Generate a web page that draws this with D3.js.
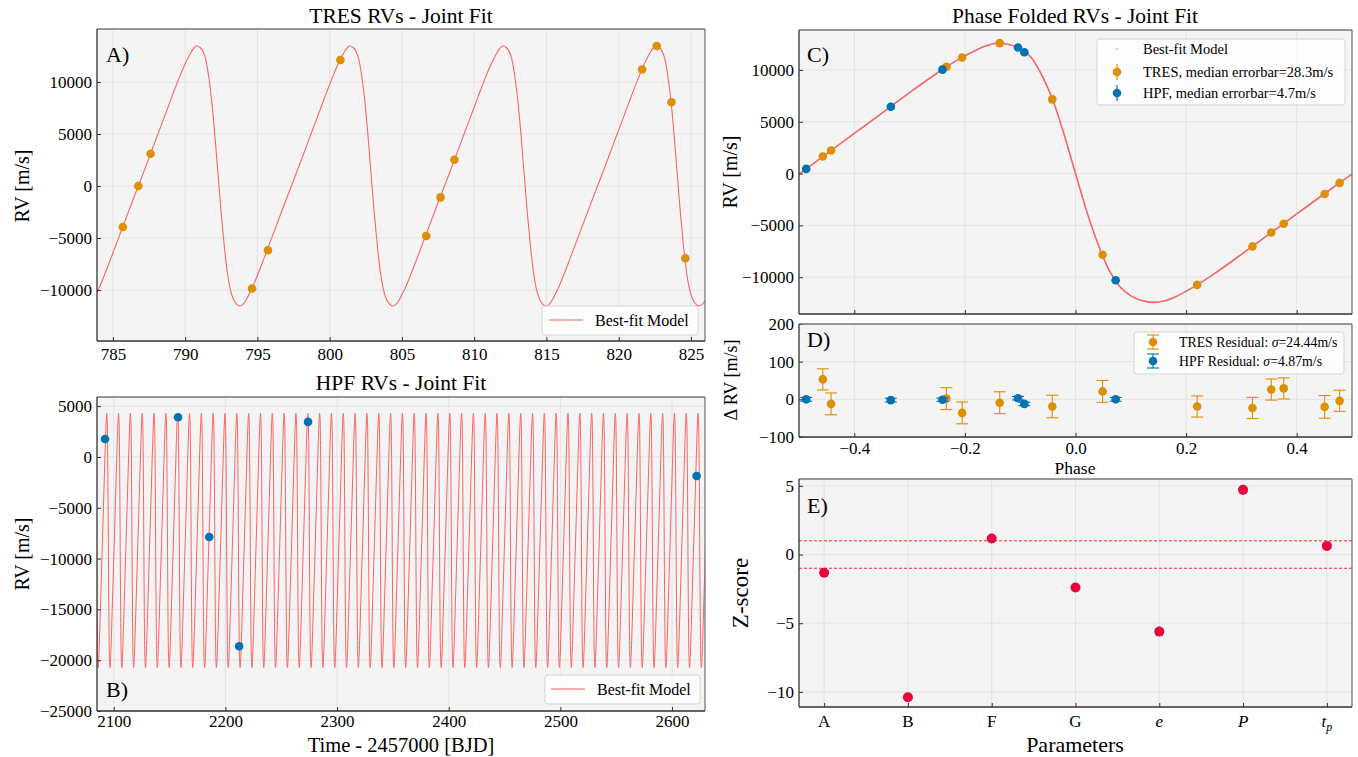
<!DOCTYPE html>
<html>
<head>
<meta charset="utf-8">
<script src="https://cdn.jsdelivr.net/npm/d3@7"></script>
<style>
  body { margin: 0; background: #ffffff; }
  svg text { font-family: 'Liberation Serif', 'Times New Roman', Times, serif; fill: #000; }
</style>
</head>
<body>
<script>
// ---------------- data ----------------
// Best-fit Keplerian model, sampled on orbital phase (systemic velocity removed)
const modelPhase = [-0.50, -0.45, -0.40, -0.35, -0.30, -0.25, -0.22, -0.20, -0.18, -0.16, -0.14, -0.12,
                    -0.10, -0.08, -0.06, -0.04, -0.02, 0.00, 0.02, 0.04, 0.06, 0.08, 0.10, 0.12,
                    0.14, 0.16, 0.18, 0.20, 0.22, 0.25, 0.30, 0.35, 0.40, 0.45, 0.50];
const modelRV = [-50, 1900, 3870, 5830, 7800, 9700, 10750, 11350, 11900, 12350, 12600, 12450,
                 12080, 11200, 9400, 6950, 3650, 0, -3600, -6700, -9250, -10900, -11800, -12250,
                 -12430, -12300, -11900, -11350, -10740, -9700, -7800, -5850, -3900, -1950, -50];

// Orbit ephemeris and per-instrument systemic offsets
const period = 10.5924;      // days
const epoch = 781.695;       // BJD - 2457000, phase zero
const gammaTRES = 890;       // m/s
const gammaHPF = -8300;      // m/s

// TRES time series
const tresTime = [785.69, 786.76, 787.61, 794.63, 795.73, 800.74, 806.68, 807.67, 808.63, 821.62, 822.63, 823.65, 824.61];
const tresRV   = [-3935, 0, 3100, -9850, -6170, 12120, -4800, -1090, 2530, 11200, 13470, 8060, -6940];

// HPF time series
const hpfTime = [2092.2, 2157.6, 2185.5, 2212.3, 2274.0, 2622.0];
const hpfRV   = [1770, 3900, -7870, -18630, 3450, -1870];

// Phase-folded TRES RVs, residuals and error bars
const tresPhase = [-0.457, -0.442, -0.2335, -0.205, -0.137, -0.042, 0.049, 0.220, 0.320, 0.354, 0.3765, 0.4505, 0.4776];
const tresFold  = [1645, 2226, 10290, 11194, 12580, 7160, -7840, -10740, -7030, -5680, -4840, -1970, -900];
const tresResid = [53, -12, 2, -36, -9, -19, 21, -19, -23, 26, 29, -20, -4];
const tresErr   = [28, 29, 29, 29, 29, 30, 29, 28, 28, 28, 28, 30, 28];

// Phase-folded HPF RVs, residuals and error bars
const hpfPhase = [-0.487, -0.334, -0.2406, -0.104, -0.0925, 0.0726];
const hpfFold  = [450, 6450, 10030, 12160, 11710, -10290];
const hpfResid = [0, -2, -1, 3, -12, 0];
const hpfErr   = [5, 5, 4.5, 4.7, 4.7, 5];

// Parameter Z-scores
const paramNames = ['A', 'B', 'F', 'G', 'e', 'P', 'tp'];
const zScores = [-1.33, -10.39, 1.17, -2.40, -5.61, 4.71, 0.63];

// Tick values
const ticksA_x = [785, 790, 795, 800, 805, 810, 815, 820, 825];
const ticksA_y = [-10000, -5000, 0, 5000, 10000];
const ticksB_x = [2100, 2200, 2300, 2400, 2500, 2600];
const ticksB_y = [-25000, -20000, -15000, -10000, -5000, 0, 5000];
const ticksPhase = [-0.4, -0.2, 0.0, 0.2, 0.4];
const ticksC_y = [-10000, -5000, 0, 5000, 10000];
const ticksD_y = [-100, 0, 100, 200];
const ticksE_y = [-10, -5, 0, 5];

// ---------------- setup ----------------
const W = 1358, H = 757;
const FONT = "'Liberation Serif', 'Times New Roman', Times, serif";
const COL_TRES = '#DE8F05', COL_HPF = '#0173B2', COL_MODEL = '#FA6464', COL_Z = '#E8053D';
const BG = '#f4f4f4', GRID = '#e1e1e1';
const TICK_FS = 17;

const svg = d3.select('body').append('svg')
  .attr('width', W).attr('height', H);
svg.append('rect').attr('width', W).attr('height', H).attr('fill', '#fff');
const defs = svg.append('defs');

let clipCount = 0;
// Background, grid and clipped plotting layer of one panel
function frame(x, y, xTicks, yTicks) {
  const [xa, xb] = x.range();
  const [yb, ya] = y.range();
  const g = svg.append('g');
  g.append('rect').attr('x', xa).attr('y', ya).attr('width', xb - xa).attr('height', yb - ya).attr('fill', BG);
  g.append('g').selectAll('line').data(xTicks).join('line')
    .attr('x1', d => x(d)).attr('x2', d => x(d)).attr('y1', ya).attr('y2', yb)
    .attr('stroke', GRID).attr('stroke-width', 0.9);
  g.append('g').selectAll('line').data(yTicks).join('line')
    .attr('y1', d => y(d)).attr('y2', d => y(d)).attr('x1', xa).attr('x2', xb)
    .attr('stroke', GRID).attr('stroke-width', 0.9);
  const id = 'clip' + (clipCount++);
  defs.append('clipPath').attr('id', id).append('rect')
    .attr('x', xa).attr('y', ya).attr('width', xb - xa).attr('height', yb - ya);
  const plot = svg.append('g').attr('clip-path', `url(#${id})`);
  return { plot, xa, xb, ya, yb };
}

// Inward ticks, tick labels and spines
function decorate(f, x, y, o) {
  const xAxis = d3.axisBottom(x).tickValues(o.xTicks).tickSizeInner(-4).tickSizeOuter(0)
    .tickPadding(o.xPad || 7).tickFormat(o.xFormat);
  const ax = svg.append('g').attr('transform', `translate(0,${f.yb})`).call(xAxis);
  ax.select('.domain').remove();
  ax.selectAll('line').attr('stroke', '#333');
  ax.selectAll('text').attr('font-family', FONT).attr('font-size', TICK_FS).attr('fill', '#000');

  const yAxis = d3.axisLeft(y).tickValues(o.yTicks).tickSizeInner(-4).tickSizeOuter(0)
    .tickPadding(5).tickFormat(o.yFormat);
  const ay = svg.append('g').attr('transform', `translate(${f.xa},0)`).call(yAxis);
  ay.select('.domain').remove();
  ay.selectAll('line').attr('stroke', '#333');
  ay.selectAll('text').attr('font-family', FONT).attr('font-size', TICK_FS).attr('fill', '#000');

  const s = svg.append('g').attr('fill', 'none').attr('stroke-width', 1.3);
  s.append('line').attr('x1', f.xa).attr('x2', f.xb).attr('y1', f.ya).attr('y2', f.ya).attr('stroke', '#777');
  s.append('line').attr('x1', f.xb).attr('x2', f.xb).attr('y1', f.ya).attr('y2', f.yb).attr('stroke', '#777');
  s.append('line').attr('x1', f.xa).attr('x2', f.xb).attr('y1', f.yb).attr('y2', f.yb).attr('stroke', '#333');
  s.append('line').attr('x1', f.xa).attr('x2', f.xa).attr('y1', f.ya).attr('y2', f.yb).attr('stroke', '#333');
}

function text(x, y, str, size, anchor) {
  return svg.append('text').attr('x', x).attr('y', y).attr('font-size', size)
    .attr('text-anchor', anchor || 'start').text(str);
}
function ylabel(x, yc, str, size) {
  return svg.append('text').attr('transform', `translate(${x},${yc}) rotate(-90)`)
    .attr('font-size', size).attr('text-anchor', 'middle').text(str);
}
function legendBox(x, y, w, h) {
  svg.append('rect').attr('x', x).attr('y', y).attr('width', w).attr('height', h)
    .attr('rx', 3).attr('fill', '#ffffff').attr('fill-opacity', 0.8)
    .attr('stroke', '#d4d4d4').attr('stroke-width', 1);
}

// Model repeated over every orbit covering a time window
function modelOverTime(t0, t1, offset) {
  const pts = [];
  const k0 = Math.floor((t0 - epoch) / period) - 1;
  const k1 = Math.ceil((t1 - epoch) / period) + 1;
  for (let k = k0; k <= k1; k++) {
    for (let i = 0; i < modelPhase.length - 1; i++) {
      pts.push([epoch + period * (k + modelPhase[i]), modelRV[i] + offset]);
    }
  }
  return pts;
}

const fmtInt = d3.format('d');
const fmtPhase = d3.format('.1f');

// ---------------- Panel A: TRES time series ----------------
{
  const x = d3.scaleLinear().domain([783.9, 825.97]).range([97, 705]);
  const y = d3.scaleLinear().domain([-14900, 15100]).range([341, 29]);
  const f = frame(x, y, ticksA_x, ticksA_y);
  const line = d3.line().x(d => x(d[0])).y(d => y(d[1])).curve(d3.curveMonotoneX);
  f.plot.append('path').datum(modelOverTime(783.9, 825.97, gammaTRES)).attr('d', line)
    .attr('fill', 'none').attr('stroke', COL_MODEL).attr('stroke-width', 1.1);
  f.plot.selectAll('circle').data(tresTime).join('circle')
    .attr('cx', d => x(d)).attr('cy', (d, i) => y(tresRV[i])).attr('r', 4.3).attr('fill', COL_TRES);
  decorate(f, x, y, { xTicks: ticksA_x, yTicks: ticksA_y, xFormat: fmtInt, yFormat: fmtInt });
  text(401, 23, 'TRES RVs - Joint Fit', 21.5, 'middle');
  text(106, 62, 'A)', 22);
  ylabel(29, 186, 'RV [m/s]', 20);
  legendBox(542, 306, 156, 29);
  svg.append('line').attr('x1', 549).attr('x2', 583).attr('y1', 320).attr('y2', 320)
    .attr('stroke', COL_MODEL).attr('stroke-width', 1.1);
  text(595, 326, 'Best-fit Model', 16);
}

// ---------------- Panel B: HPF time series ----------------
{
  const x = d3.scaleLinear().domain([2085, 2629.5]).range([97, 705]);
  const y = d3.scaleLinear().domain([-25000, 5900]).range([711, 397]);
  const f = frame(x, y, ticksB_x, ticksB_y);
  const line = d3.line().x(d => x(d[0])).y(d => y(d[1])).curve(d3.curveMonotoneX);
  f.plot.append('path').datum(modelOverTime(2085, 2629.5, gammaHPF)).attr('d', line)
    .attr('fill', 'none').attr('stroke', COL_MODEL).attr('stroke-width', 1.0);
  f.plot.selectAll('circle').data(hpfTime).join('circle')
    .attr('cx', d => x(d)).attr('cy', (d, i) => y(hpfRV[i])).attr('r', 4.3).attr('fill', COL_HPF);
  decorate(f, x, y, { xTicks: ticksB_x, yTicks: ticksB_y, xFormat: fmtInt, yFormat: fmtInt, xPad: 4 });
  text(401, 390, 'HPF RVs - Joint Fit', 21.5, 'middle');
  text(106, 697, 'B)', 22);
  ylabel(29, 554, 'RV [m/s]', 20);
  text(401, 752, 'Time - 2457000 [BJD]', 20.5, 'middle');
  legendBox(545, 675, 155, 29);
  svg.append('line').attr('x1', 551).attr('x2', 585).attr('y1', 689).attr('y2', 689)
    .attr('stroke', COL_MODEL).attr('stroke-width', 1.1);
  text(597, 695, 'Best-fit Model', 16);
}

// ---------------- Panel C: phase-folded RVs ----------------
const xPhase = d3.scaleLinear().domain([-0.5, 0.5]).range([799, 1352]);
{
  const x = xPhase;
  const y = d3.scaleLinear().domain([-13550, 13850]).range([314, 30]);
  const f = frame(x, y, ticksPhase, ticksC_y);
  const line = d3.line().x((d, i) => x(modelPhase[i])).y(d => y(d)).curve(d3.curveMonotoneX);
  f.plot.append('path').datum(modelRV).attr('d', line)
    .attr('fill', 'none').attr('stroke', COL_MODEL).attr('stroke-width', 1.6);
  // error bars (sub-pixel at this scale) and points
  f.plot.selectAll('line.et').data(tresPhase).join('line').attr('class', 'et')
    .attr('x1', d => x(d)).attr('x2', d => x(d))
    .attr('y1', (d, i) => y(tresFold[i] - tresErr[i])).attr('y2', (d, i) => y(tresFold[i] + tresErr[i]))
    .attr('stroke', COL_TRES);
  f.plot.selectAll('circle.t').data(tresPhase).join('circle').attr('class', 't')
    .attr('cx', d => x(d)).attr('cy', (d, i) => y(tresFold[i])).attr('r', 4.3).attr('fill', COL_TRES);
  f.plot.selectAll('circle.h').data(hpfPhase).join('circle').attr('class', 'h')
    .attr('cx', d => x(d)).attr('cy', (d, i) => y(hpfFold[i])).attr('r', 4.3).attr('fill', COL_HPF);
  decorate(f, x, y, { xTicks: ticksPhase, yTicks: ticksC_y, xFormat: () => '', yFormat: fmtInt });
  text(1075, 23, 'Phase Folded RVs - Joint Fit', 21.5, 'middle');
  text(807, 62, 'C)', 22);
  ylabel(737, 172, 'RV [m/s]', 20);

  legendBox(1097, 39, 248, 66);
  svg.append('circle').attr('cx', 1117).attr('cy', 49).attr('r', 0.8).attr('fill', COL_MODEL);
  const entries = [[COL_TRES, 72, 'TRES, median errorbar=28.3m/s'], [COL_HPF, 93, 'HPF, median errorbar=4.7m/s']];
  entries.forEach(([c, yy, lbl]) => {
    svg.append('line').attr('x1', 1117).attr('x2', 1117).attr('y1', yy - 8).attr('y2', yy + 8)
      .attr('stroke', c).attr('stroke-width', 1.2);
    svg.append('circle').attr('cx', 1117).attr('cy', yy).attr('r', 4.3).attr('fill', c);
  });
  text(1143, 54, 'Best-fit Model', 14.5);
  entries.forEach(([c, yy, lbl]) => text(1143, yy + 5, lbl, 14.5));
}

// ---------------- Panel D: residuals ----------------
{
  const x = xPhase;
  const y = d3.scaleLinear().domain([-100, 200]).range([437, 324]);
  const f = frame(x, y, ticksPhase, ticksD_y);
  function errSet(ph, res, err, col, cls, cap) {
    const g = f.plot.append('g').attr('class', cls);
    g.selectAll('line.v').data(ph).join('line').attr('class', 'v')
      .attr('x1', d => x(d)).attr('x2', d => x(d))
      .attr('y1', (d, i) => y(res[i] - err[i])).attr('y2', (d, i) => y(res[i] + err[i]))
      .attr('stroke', col).attr('stroke-width', 1.1);
    ['lo', 'hi'].forEach((k, s) => {
      g.selectAll('line.' + k).data(ph).join('line').attr('class', k)
        .attr('x1', d => x(d) - cap).attr('x2', d => x(d) + cap)
        .attr('y1', (d, i) => y(res[i] + (s ? err[i] : -err[i])))
        .attr('y2', (d, i) => y(res[i] + (s ? err[i] : -err[i])))
        .attr('stroke', col).attr('stroke-width', 1.1);
    });
    g.selectAll('circle').data(ph).join('circle')
      .attr('cx', d => x(d)).attr('cy', (d, i) => y(res[i])).attr('r', 4.3).attr('fill', col);
  }
  errSet(tresPhase, tresResid, tresErr, COL_TRES, 'tres', 6);
  errSet(hpfPhase, hpfResid, hpfErr, COL_HPF, 'hpf', 6);
  decorate(f, x, y, { xTicks: ticksPhase, yTicks: ticksD_y, xFormat: fmtPhase, yFormat: fmtInt, xPad: 5 });
  text(807, 347, 'D)', 22);
  ylabel(737, 380, 'Δ RV [m/s]', 18);
  text(1075, 474, 'Phase', 17.5, 'middle');

  legendBox(1134, 332, 210, 42);
  [[COL_TRES, 342], [COL_HPF, 361]].forEach(([c, yy]) => {
    svg.append('line').attr('x1', 1153).attr('x2', 1153).attr('y1', yy - 7).attr('y2', yy + 7).attr('stroke', c).attr('stroke-width', 1.1);
    svg.append('line').attr('x1', 1147).attr('x2', 1159).attr('y1', yy - 7).attr('y2', yy - 7).attr('stroke', c).attr('stroke-width', 1.1);
    svg.append('line').attr('x1', 1147).attr('x2', 1159).attr('y1', yy + 7).attr('y2', yy + 7).attr('stroke', c).attr('stroke-width', 1.1);
    svg.append('circle').attr('cx', 1153).attr('cy', yy).attr('r', 4.3).attr('fill', c);
  });
  const t1 = text(1179, 347, 'TRES Residual: ', 13.8);
  t1.append('tspan').attr('font-style', 'italic').text('σ');
  t1.append('tspan').text('=24.44m/s');
  const t2 = text(1179, 366, 'HPF Residual: ', 13.8);
  t2.append('tspan').attr('font-style', 'italic').text('σ');
  t2.append('tspan').text('=4.87m/s');
}

// ---------------- Panel E: parameter Z-scores ----------------
{
  const x = d3.scaleLinear().domain([-0.3, 6.3]).range([799, 1352]);
  const y = d3.scaleLinear().domain([-11.1, 5.5]).range([707, 479]);
  const idx = d3.range(paramNames.length);
  const f = frame(x, y, idx, ticksE_y);
  [-1, 1].forEach(v => {
    f.plot.append('line').attr('x1', f.xa).attr('x2', f.xb).attr('y1', y(v)).attr('y2', y(v))
      .attr('stroke', '#ff2a2a').attr('stroke-width', 1).attr('stroke-dasharray', '3,2');
  });
  f.plot.selectAll('circle').data(zScores).join('circle')
    .attr('cx', (d, i) => x(i)).attr('cy', d => y(d)).attr('r', 5).attr('fill', COL_Z);
  decorate(f, x, y, { xTicks: idx, yTicks: ticksE_y, xFormat: () => '', yFormat: fmtInt });
  paramNames.forEach((p, i) => {
    const t = svg.append('text').attr('x', x(i)).attr('y', 727).attr('font-size', TICK_FS).attr('text-anchor', 'middle');
    if (p === 'tp') {
      t.append('tspan').attr('font-style', 'italic').text('t');
      t.append('tspan').attr('font-style', 'italic').attr('font-size', 12).attr('dy', 4).text('p');
    } else if (p === 'e' || p === 'P') {
      t.append('tspan').attr('font-style', 'italic').text(p);
    } else {
      t.text(p);
    }
  });
  text(807, 513, 'E)', 22);
  ylabel(748, 593, 'Z-score', 23);
  text(1075, 752, 'Parameters', 22, 'middle');
}
</script>
</body>
</html>
